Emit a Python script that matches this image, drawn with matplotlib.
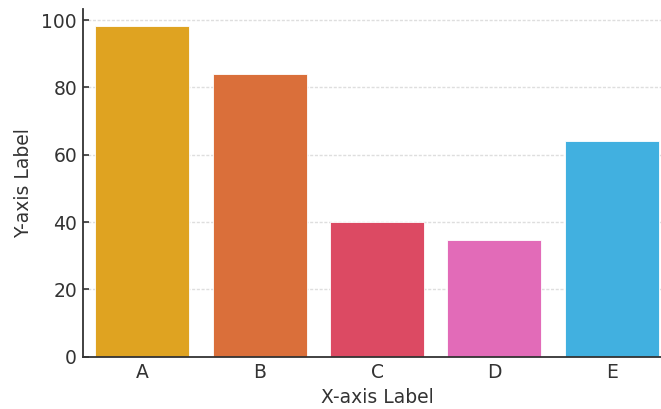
import matplotlib
matplotlib.use("Agg")
import matplotlib.pyplot as plt

categories = ["A", "B", "C", "D", "E"]
values = [98.3, 84.0, 40.0, 34.7, 64.2]
colors = ["#dfa321", "#da6f3a", "#dc4a63", "#e26bb8", "#41b0e0"]
y_ticks = [0, 20, 40, 60, 80, 100]

W, H, DPI = 661, 409, 100
fig = plt.figure(figsize=(W / DPI, H / DPI), dpi=DPI)
ax = fig.add_axes([83.3 / W, 52.3 / H, 587.4 / W, 347.4 / H])

x = range(len(categories))
ax.bar(x, values, width=0.8, color=colors, edgecolor="white", linewidth=0.6, zorder=2)

ax.set_xlim(-0.5, len(categories) - 0.5)
ax.set_ylim(0, max(values) * 1.05)
ax.set_xticks(list(x))
ax.set_xticklabels(categories)
ax.set_yticks(y_ticks)

text_color = "#333333"
ax.tick_params(axis="both", direction="in", labelsize=13.5, colors=text_color,
               length=4.5, width=1.2, pad=4.5, labelcolor=text_color)
ax.set_xlabel("X-axis Label", fontsize=13.5, color=text_color, labelpad=4)
ax.set_ylabel("Y-axis Label", fontsize=13.5, color=text_color, labelpad=6)

ax.yaxis.grid(True, linestyle=(0, (2.2, 1.2)), color="#dedede", linewidth=1.0, zorder=0)
ax.set_axisbelow(True)
for side in ("top", "right"):
    ax.spines[side].set_visible(False)
for side in ("left", "bottom"):
    ax.spines[side].set_color(text_color)
    ax.spines[side].set_linewidth(1.3)

fig.savefig("out.png", dpi=DPI)
